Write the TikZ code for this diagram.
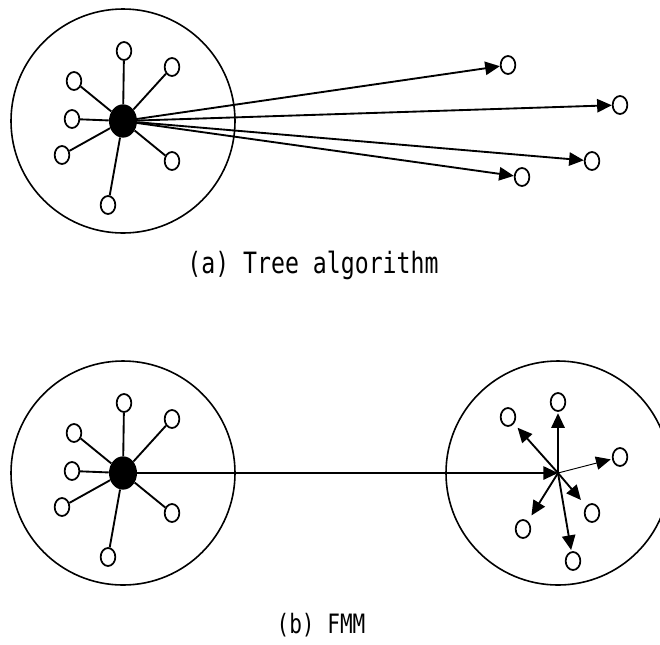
\documentclass[tikz,border=0pt]{standalone}
\usepackage{fontspec}
\newfontfamily\capfont[FakeStretch=0.79]{DejaVu Sans Mono}
\usetikzlibrary{shapes.geometric,arrows.meta}
\begin{document}
\begin{tikzpicture}[x=0.75pt,y=-0.75pt,
  small/.style={draw, ellipse, line width=1.3pt, minimum width=11pt, minimum height=13.5pt, inner sep=0pt},
  hubnode/.style={fill=black, ellipse, minimum width=21pt, minimum height=25pt, inner sep=0pt},
  region/.style={draw, circle, line width=1.2pt, minimum size=168pt, inner sep=0pt},
  spoke/.style={line width=1.4pt},
  arr/.style={line width=1.4pt, -{Triangle[length=11pt,width=10pt]}},
  thinarr/.style={line width=0.7pt, -{Triangle[length=11pt,width=10pt]}},
  captext/.style={font=\capfont\fontsize{22pt}{24pt}\selectfont, inner sep=0pt}]
\useasboundingbox (0,0) rectangle (660,644);
\clip (0,0) rectangle (660,644);

% ---------- (a) ----------
\node[region] (ra) at (123,121) {};
\node[hubnode] (ha) at (123,121) {};
\node[small] (a1) at (124,51) {};
\node[small] (a2) at (172,67) {};
\node[small] (a3) at (74,81) {};
\node[small] (a4) at (72,119) {};
\node[small] (a5) at (62,155) {};
\node[small] (a6) at (172,161) {};
\node[small] (a7) at (108,205) {};
\foreach \n in {a1,a2,a3,a4,a5,a6,a7} \draw[spoke] (ha) -- (\n);

\node[small] (t1) at (508,65) {};
\node[small] (t2) at (620,105) {};
\node[small] (t3) at (592,161) {};
\node[small] (t4) at (522,177) {};
\foreach \n in {t1,t2,t3,t4} \draw[arr] (ha.center) -- (\n);

\node[captext] (capa) at (313,265) {(a) Tree algorithm};

% ---------- (b) ----------
\node[region] (rb) at (123,473) {};
\node[hubnode] (hb) at (123,473) {};
\node[small] (b1) at (124,403) {};
\node[small] (b2) at (172,419) {};
\node[small] (b3) at (74,433) {};
\node[small] (b4) at (72,471) {};
\node[small] (b5) at (62,507) {};
\node[small] (b6) at (172,513) {};
\node[small] (b7) at (108,557) {};
\foreach \n in {b1,b2,b3,b4,b5,b6,b7} \draw[spoke] (hb) -- (\n);

\node[region] (rc) at (558,473) {};
\coordinate (hc) at (558,473);
\draw[arr] (hb.center) -- (hc);
\node[small] (c1) at (558,402) {};
\node[small] (c2) at (508,417) {};
\node[small] (c3) at (620,457) {};
\node[small] (c4) at (592,513) {};
\node[small] (c5) at (523,529) {};
\node[small] (c6) at (573,561) {};
\draw[arr, shorten >=1pt] (hc) -- (c1);
\draw[arr, shorten >=4pt] (hc) -- (c2);
\draw[thinarr, shorten >=1pt] (hc) -- (c3);
\draw[arr, shorten >=6pt] (hc) -- (c4);
\draw[arr, shorten >=5pt] (hc) -- (c5);
\draw[arr, shorten >=1pt] (hc) -- (c6);

\node[captext, font=\capfont\fontsize{20pt}{22pt}\selectfont] (capb) at (321,625) {(b) FMM};
\end{tikzpicture}
\end{document}
